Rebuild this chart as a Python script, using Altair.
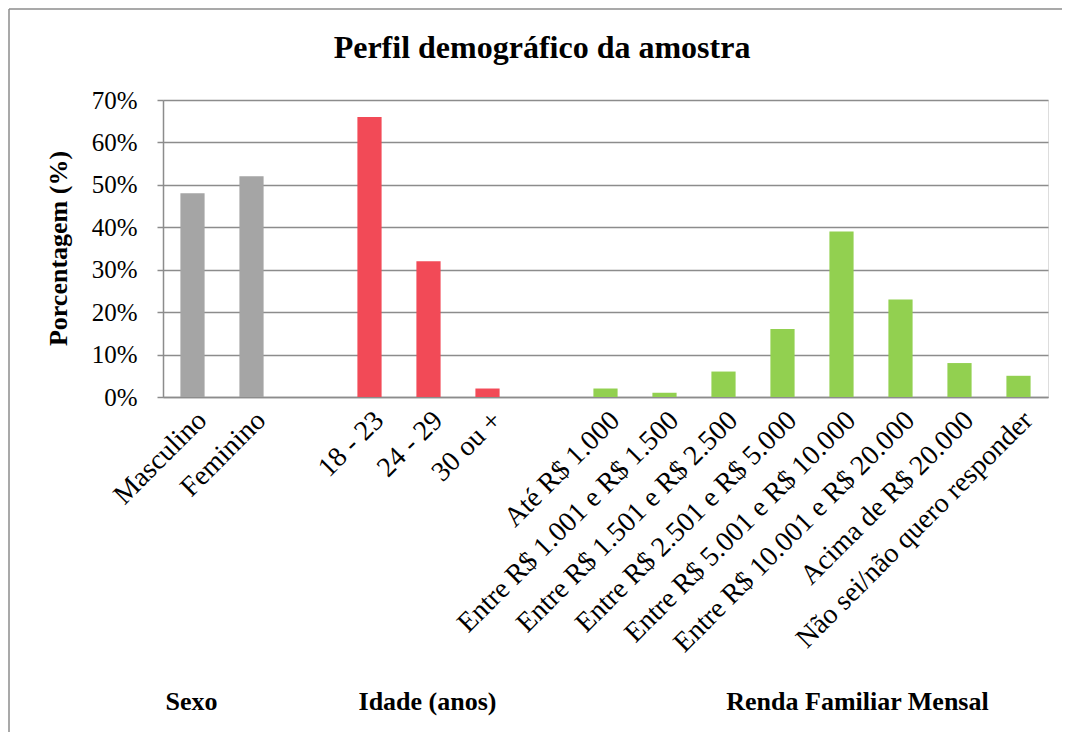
import altair as alt
import pandas as pd

# ---- data ----
sexo_cats = ["Masculino", "Feminino"]
sexo_vals = [0.48, 0.52]
idade_cats = ["18 - 23", "24 - 29", "30 ou +"]
idade_vals = [0.66, 0.32, 0.02]
renda_cats = [
    "Até R$ 1.000",
    "Entre R$ 1.001 e R$ 1.500",
    "Entre R$ 1.501 e R$ 2.500",
    "Entre R$ 2.501 e R$ 5.000",
    "Entre R$ 5.001 e R$ 10.000",
    "Entre R$ 10.001 e R$ 20.000",
    "Acima de R$ 20.000",
    "Não sei/não quero responder",
]
renda_vals = [0.02, 0.01, 0.06, 0.16, 0.39, 0.23, 0.08, 0.05]
group_names = ["Sexo", "Idade (anos)", "Renda Familiar Mensal"]
group_colors = ["#A5A5A5", "#F24A57", "#92D050"]
title_text = "Perfil demográfico da amostra"

# blank slots separate the groups on the axis
domain = sexo_cats + [" "] + idade_cats + ["  "] + renda_cats

rows = []
for c, v in zip(sexo_cats, sexo_vals):
    rows.append({"cat": c, "val": v, "grp": group_names[0]})
for c, v in zip(idade_cats, idade_vals):
    rows.append({"cat": c, "val": v, "grp": group_names[1]})
for c, v in zip(renda_cats, renda_vals):
    rows.append({"cat": c, "val": v, "grp": group_names[2]})
df = pd.DataFrame(rows)

FONT = "Liberation Serif"
W, H = 885, 297

xscale = alt.Scale(domain=domain, paddingInner=0.59, paddingOuter=0.295)

bars = alt.Chart(df).mark_bar().encode(
    x=alt.X(
        "cat:N",
        scale=xscale,
        title=None,
        axis=alt.Axis(
            labelAngle=-45,
            labelAlign="right",
            labelBaseline="top",
            labelPadding=9,
            labelFont=FONT,
            labelFontSize=28,
            labelColor="black",
            ticks=False,
            domainColor="#8c8c8c",
            domainWidth=1.5,
            labelLimit=600,
            labelOverlap=False,
        ),
    ),
    y=alt.Y(
        "val:Q",
        scale=alt.Scale(domain=[0, 0.7], nice=False),
        title="Porcentagem (%)",
        axis=alt.Axis(
            values=[0, 0.1, 0.2, 0.3, 0.4, 0.5, 0.6, 0.7],
            format=".0%",
            labelFont=FONT,
            labelFontSize=25,
            labelColor="black",
            labelPadding=20,
            tickSize=6,
            tickColor="#8c8c8c",
            tickWidth=1.5,
            domainColor="#8c8c8c",
            domainWidth=1.5,
            grid=True,
            gridColor="#8c8c8c",
            gridWidth=1.5,
            titleFont=FONT,
            titleFontSize=26,
            titleFontWeight="bold",
            titleColor="black",
            titleAngle=-90,
            titleAlign="center",
            titleBaseline="middle",
            titleX=-105,
            titleY=148,
        ),
    ),
    color=alt.Color(
        "grp:N",
        scale=alt.Scale(domain=group_names, range=group_colors),
        legend=None,
    ),
)

# chart title
title_mark = alt.Chart(pd.DataFrame({"t": [title_text]})).mark_text(
    font=FONT, fontSize=32, fontWeight="bold", color="black",
    baseline="alphabetic", align="center"
).encode(x=alt.value(379), y=alt.value(-42), text="t:N")

# group labels under the axis
glab_a = pd.DataFrame({"cat": ["Masculino", "24 - 29"], "label": group_names[:2]})
glab_b = pd.DataFrame({"cat": ["Entre R$ 5.001 e R$ 10.000"], "label": group_names[2:]})

gtext_a = alt.Chart(glab_a).mark_text(
    font=FONT, fontSize=26, fontWeight="bold", color="black", baseline="middle", dx=-1
).encode(x=alt.X("cat:N", scale=xscale), y=alt.value(H + 305), text="label:N")
gtext_b = alt.Chart(glab_b).mark_text(
    font=FONT, fontSize=26, fontWeight="bold", color="black", baseline="middle", dx=16
).encode(x=alt.X("cat:N", scale=xscale), y=alt.value(H + 305), text="label:N")

# outer chart frame (top and left edges; the others lie outside the picture)
frame_top = alt.Chart(pd.DataFrame({"a": [0]})).mark_rule(
    stroke="#8c8c8c", strokeWidth=1.5
).encode(x=alt.value(-154), x2=alt.value(W + 20), y=alt.value(-91))
frame_left = alt.Chart(pd.DataFrame({"a": [0]})).mark_rule(
    stroke="#8c8c8c", strokeWidth=1.5
).encode(x=alt.value(-154), y=alt.value(-91), y2=alt.value(H + 340))

chart = (
    alt.layer(frame_top, frame_left, bars, title_mark, gtext_a, gtext_b)
    .properties(
        width=W,
        height=H,
        autosize=alt.AutoSizeParams(type="none"),
        padding={"left": 155, "top": 92, "right": 14, "bottom": 335},
    )
    .configure_view(stroke=None)
    .configure(background="white")
)

chart.save("out.html", embed_options={"renderer": "svg", "actions": False})
